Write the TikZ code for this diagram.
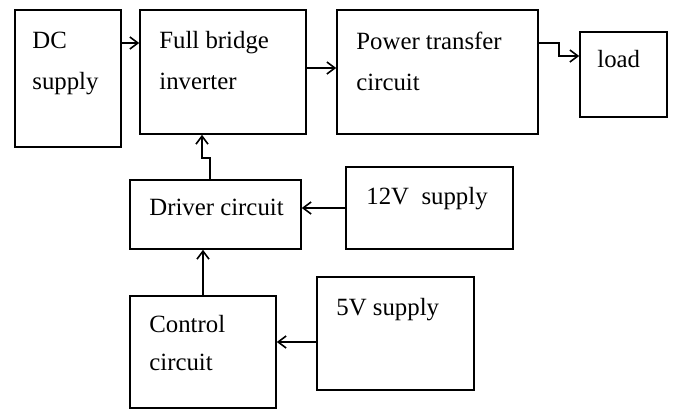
\documentclass[tikz,border=0pt]{standalone}
\usepackage{fontspec}
\setmainfont{Liberation Serif}
\usepackage{tikz}
\usetikzlibrary{arrows.meta}
\tikzset{
  box/.style ={draw,line width=0.8pt,inner sep=0pt},
  lbl/.style ={font=\fontsize{12.4}{20.5}\selectfont,align=left,anchor=north west,inner sep=0pt},
  conn/.style={-{Straight Barb[length=4pt,width=6pt]},line width=0.8pt},
}
\begin{document}
\begin{tikzpicture}[x=0.5pt,y=-0.5pt]
  \useasboundingbox (0,0) rectangle (673,408);
  % top row: power path
  \node[box,minimum width=53pt,minimum height=68.5pt]   (dc)   at (68,78.5)    {};
  \node[box,minimum width=83pt,minimum height=62pt]     (inv)  at (223,72)     {};
  \node[box,minimum width=100.5pt,minimum height=62pt]  (ptc)  at (437.5,72)   {};
  \node[box,minimum width=43.5pt,minimum height=42.5pt] (load) at (623.5,74.5) {};
  % lower rows: driver and control
  \node[box,minimum width=85.5pt,minimum height=34.5pt] (drv)  at (215.5,214.5) {};
  \node[box,minimum width=83.5pt,minimum height=41pt]   (sup12) at (429.5,208)  {};
  \node[box,minimum width=73pt,minimum height=56pt]     (ctl)  at (203,352)     {};
  \node[box,minimum width=78.5pt,minimum height=56.5pt] (sup5) at (395.5,333.5) {};
  % texts
  \node[lbl] (dct)   at (32,32)   {DC\\supply};
  \node[lbl] (invt)  at (159,31)  {Full bridge\\inverter};
  \node[lbl] (ptct)  at (356,32)  {Power transfer\\circuit};
  \node[lbl] (loadt) at (597,50)  {load};
  \node[lbl] (drvt)  at (149,199) {Driver circuit};
  \node[lbl] (s12t)  at (366,187) {12V\ \ supply};
  \node[lbl,font=\fontsize{12.4}{19}\selectfont] (ctlt) at (149,315) {Control\\circuit};
  \node[lbl] (s5t)   at (336,298) {5V supply};
  % connectors
  \draw[conn] (dc.east |- 0,43) -- (inv.west |- 0,43);
  \draw[conn] (inv.east |- 0,68) -- (ptc.west |- 0,68);
  \draw[conn] (ptc.east |- 0,43) -- ++(20,0) |- (load.west |- 0,56);
  \draw[conn] (drv.north -| 210,0) -- ++(0,-21) -- ++(-8,0) -- (inv.south -| 202,0);
  \draw[conn] (sup12.west) -- (drv.east |- sup12.west);
  \draw[conn] (ctl.north) -- (drv.south -| ctl.north);
  \draw[conn] (sup5.west |- 0,342) -- (ctl.east |- 0,342);
\end{tikzpicture}
\end{document}
